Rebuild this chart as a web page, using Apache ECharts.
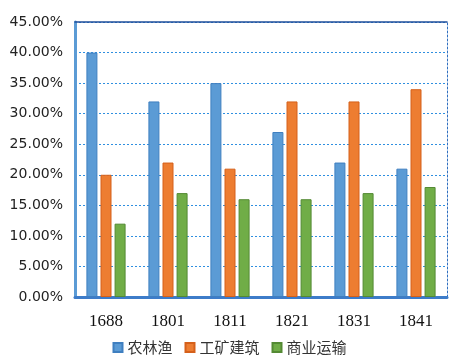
<!DOCTYPE html>
<html><head><meta charset="utf-8">
<script src="https://cdn.jsdelivr.net/npm/echarts@6/dist/echarts.min.js"></script>
<style>html,body{margin:0;padding:0;background:#fff}#c{width:459px;height:361px}</style>
</head><body><div id="c"></div>
<script>
const categories = ['1688','1801','1811','1821','1831','1841'];
const seriesNames = ['农林渔','工矿建筑','商业运输'];
const agri = [40, 32, 35, 27, 22, 21];
const industry = [20, 22, 21, 32, 32, 34];
const commerce = [12, 17, 16, 16, 17, 18];
const yTicks = [0,5,10,15,20,25,30,35,40,45];

const colors = ['#5B9BD5','#ED7D31','#70AD47'];
const borders = ['#3F7FC0','#D5601A','#548A34'];
const chart = echarts.init(document.getElementById('c'));
const mk = (name, data, i) => ({
  name, type:'bar', data, barWidth: 11, barGap: '28%',
  itemStyle:{color:colors[i], borderColor:borders[i], borderWidth:1}
});
chart.setOption({
  animation:false,
  grid:{left:75, right:12, top:22, bottom:64},
  legend:{bottom:1, left:'center', itemWidth:9, itemHeight:9, itemGap:12,
    textStyle:{fontFamily:'Noto Sans CJK SC', fontSize:15, color:'#333'},
    data: seriesNames.map((n,i)=>({name:n, icon:'rect'}))},
  xAxis:[{type:'category', data:categories,
    axisLine:{lineStyle:{color:'#3D7CC9', width:3}},
    axisTick:{show:false},
    axisLabel:{fontFamily:'Liberation Serif', fontSize:17, color:'#111', margin:16}},
    {type:'category', position:'top', data:categories,
    axisLine:{show:true, onZero:false, lineStyle:{color:'#1F4E99', width:1.5}},
    axisTick:{show:false}, axisLabel:{show:false}}],
  yAxis:[{type:'value', min:0, max:45, interval:5,
    axisLine:{show:true, lineStyle:{color:'#5B9BD5', width:3}},
    axisTick:{show:false},
    axisLabel:{fontFamily:'DejaVu Sans', fontSize:14, color:'#222', margin:12,
      formatter:v=>v.toFixed(2)+'%'},
    splitLine:{lineStyle:{color:'#2F8FE0', type:[2,2], width:1}}},
    {type:'value', min:0, max:45, interval:5, position:'right',
    axisLine:{show:true, onZero:false, lineStyle:{color:'#2F6FC0', type:[2,2], width:1}},
    axisTick:{show:false}, axisLabel:{show:false}, splitLine:{show:false}}],
  series:[mk(seriesNames[0], agri, 0), mk(seriesNames[1], industry, 1), mk(seriesNames[2], commerce, 2)]
});
</script></body></html>
